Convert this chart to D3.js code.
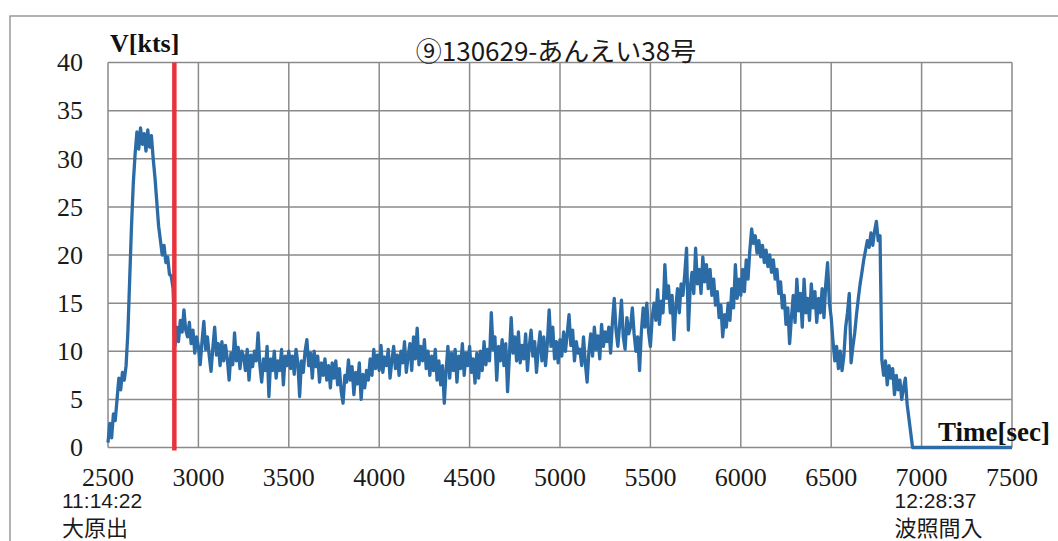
<!DOCTYPE html>
<html>
<head>
<meta charset="utf-8">
<script src="https://cdn.jsdelivr.net/npm/d3@7"></script>
<style>
  body { margin: 0; background: #fff; }
</style>
</head>
<body>
<div id="chart"></div>
<script>
// boat speed [kts], one sample every 10 s starting at 2500 s
const startTime = 2500
const sampleStep = 10
const speed = [
  0.5, 2.5, 1.0, 3.5, 2.8, 5.0, 7.2, 6.0, 7.8, 7.0, 8.5, 12.0, 17.5, 23.0, 27.5, 30.5, 32.8, 31.0, 33.2, 31.5, 32.6, 30.8, 33.0, 31.2, 32.4,
  30.0, 28.0, 25.5, 23.0, 21.5, 20.0, 21.0, 19.2, 19.8, 18.0, 17.8, 16.5, 10.5, 12.5, 11.0, 13.2, 12.0, 14.3, 12.2, 11.5, 13.0, 10.8, 12.2, 9.8, 11.5,
  10.5, 8.6, 11.0, 13.1, 10.2, 11.5, 9.5, 7.9, 10.4, 12.5, 9.6, 10.8, 8.5, 11.0, 9.0, 10.6, 9.2, 7.0, 9.8, 8.6, 11.9, 9.0, 10.4, 8.2, 10.0,
  9.5, 8.0, 10.2, 7.0, 9.6, 8.4, 10.0, 9.0, 11.9, 8.5, 6.8, 9.2, 8.0, 10.5, 5.3, 9.2, 8.0, 10.0, 7.2, 9.0, 8.0, 10.2, 6.5, 9.5, 8.5,
  10.0, 8.2, 9.5, 7.6, 10.2, 8.8, 5.3, 9.0, 7.8, 10.0, 11.2, 8.5, 9.8, 7.2, 10.0, 8.4, 9.5, 6.8, 8.8, 7.5, 9.2, 7.0, 8.5, 6.2, 8.8,
  7.2, 9.0, 6.5, 8.2, 5.8, 4.6, 7.5, 6.8, 9.1, 7.0, 8.4, 5.5, 7.8, 6.6, 8.8, 5.0, 7.6, 6.2, 8.0, 7.0, 9.2, 7.5, 10.2, 8.2, 9.6,
  8.0, 10.6, 7.8, 9.4, 8.5, 10.2, 7.2, 9.0, 10.5, 8.2, 9.6, 7.5, 10.0, 8.8, 11.0, 7.8, 9.5, 10.8, 8.0, 11.5, 9.2, 12.4, 8.6, 10.5, 9.0,
  11.2, 8.2, 10.0, 7.5, 9.5, 8.0, 10.2, 7.0, 9.0, 6.5, 8.5, 4.6, 8.0, 10.5, 7.2, 9.8, 8.0, 10.2, 6.8, 9.5, 8.2, 10.8, 7.5, 9.8, 8.5,
  10.5, 7.8, 9.2, 6.7, 9.8, 7.2, 10.0, 8.0, 11.0, 8.6, 10.2, 9.0, 14.0, 10.2, 11.5, 7.0, 10.5, 9.0, 11.2, 8.5, 10.8, 5.8, 9.5, 13.5, 9.8,
  11.5, 9.0, 12.0, 8.8, 10.6, 9.2, 11.8, 8.0, 10.5, 12.2, 9.5, 11.0, 7.8, 10.2, 12.0, 9.0, 11.5, 8.5, 10.8, 14.3, 10.5, 12.5, 9.2, 11.0, 8.8,
  11.2, 9.5, 12.0, 10.0, 11.8, 13.8, 10.6, 12.2, 9.0, 11.0, 9.8, 10.2, 8.5, 11.5, 8.8, 6.8, 10.0, 11.8, 9.5, 12.5, 10.2, 11.6, 9.2, 12.8, 10.5,
  12.0, 11.0, 12.5, 9.8, 13.0, 15.5, 12.2, 10.5, 12.8, 15.3, 11.5, 10.2, 13.5, 11.8, 12.5, 14.5, 11.8, 10.0, 11.5, 8.0, 12.0, 14.5, 12.5, 15.0, 12.0,
  10.5, 13.5, 15.0, 13.2, 16.4, 12.8, 15.2, 14.0, 19.0, 15.5, 16.8, 14.0, 15.8, 11.2, 14.5, 16.5, 14.0, 17.0, 15.8, 18.0, 20.7, 12.2, 16.5, 18.2, 16.0,
  20.7, 17.0, 18.5, 16.0, 19.8, 17.2, 19.0, 16.5, 18.5, 15.8, 17.5, 14.8, 16.2, 13.5, 14.8, 11.5, 13.8, 12.5, 15.0, 13.2, 16.5, 14.5, 19.0, 15.5, 17.5,
  15.8, 18.5, 16.2, 19.5, 17.5, 20.5, 22.7, 21.2, 22.0, 20.2, 21.5, 19.8, 21.0, 19.2, 20.5, 18.8, 20.0, 18.2, 19.5, 17.5, 18.5, 16.0, 17.2, 14.5, 15.8,
  12.8, 14.5, 10.8, 13.5, 15.8, 13.0, 17.5, 14.2, 16.0, 12.5, 17.5, 14.0, 15.5, 13.2, 17.0, 14.5, 16.2, 13.0, 15.5, 14.0, 16.5, 13.5, 17.0, 19.2, 15.0,
  13.5, 11.0, 9.0, 10.5, 8.2, 10.0, 8.0, 9.5, 12.5, 14.0, 16.0, 8.8, 10.5, 11.9, 13.8, 15.5, 17.0, 18.2, 19.5, 20.5, 21.5, 20.8, 22.3, 21.0, 22.5,
  23.5, 21.5, 22.0, 9.1, 7.5, 9.0, 6.5, 8.5, 7.2, 8.2, 5.5, 7.5, 6.0, 7.0, 5.0, 6.2, 7.2, 4.5, 3.0, 1.5, 0.0
]
// after arrival the log stays at zero
const tailTimes = [6960, 7500]
const tailSpeed = [0, 0]

const xTicks = [2500, 3000, 3500, 4000, 4500, 5000, 5500, 6000, 6500, 7000, 7500]
const yTicks = [0, 5, 10, 15, 20, 25, 30, 35, 40]
const markerTime = 2867 // red line
const title = "⑨130629-あんえい38号"
const startLabels = ["11:14:22", "大原出"]
const endLabels = ["12:28:37", "波照間入"]

var dimensions = {
    width: 1058,
    height: 541,
    margin: { top: 62.5, right: 46, bottom: 93.5, left: 108 }
}

var points = speed.map((v, i) => ({ t: startTime + i * sampleStep, v: v }))
tailTimes.forEach((t, i) => points.push({ t: t, v: tailSpeed[i] }))

const x = d3.scaleLinear()
    .domain([2500, 7500])
    .range([dimensions.margin.left, dimensions.width - dimensions.margin.right])
const y = d3.scaleLinear()
    .domain([0, 40])
    .range([dimensions.height - dimensions.margin.bottom, dimensions.margin.top])

const svg = d3.select("#chart").append("svg")
    .attr("width", dimensions.width)
    .attr("height", dimensions.height)
    .style("display", "block")

const gridColor = "#8a8a8a"

// outer chart frame (only top and left edges fall inside the window)
svg.append("rect")
    .attr("x", 10).attr("y", 16)
    .attr("width", 1200).attr("height", 700)
    .attr("fill", "none")
    .attr("stroke", gridColor)
    .attr("stroke-width", 1.3)

// gridlines
svg.append("g")
    .selectAll("line")
    .data(yTicks)
    .join("line")
    .attr("x1", x(2500)).attr("x2", x(7500))
    .attr("y1", d => y(d)).attr("y2", d => y(d))
    .attr("stroke", gridColor)
    .attr("stroke-width", 1.5)

svg.append("g")
    .selectAll("line")
    .data(xTicks)
    .join("line")
    .attr("x1", d => x(d)).attr("x2", d => x(d))
    .attr("y1", y(0)).attr("y2", y(40))
    .attr("stroke", gridColor)
    .attr("stroke-width", 1.5)

// tick labels
svg.append("g")
    .selectAll("text")
    .data(yTicks)
    .join("text")
    .text(d => d)
    .attr("x", 83)
    .attr("y", d => y(d))
    .attr("dy", "0.34em")
    .attr("text-anchor", "end")
    .attr("font-family", "Liberation Serif")
    .attr("font-size", 26)
    .attr("fill", "#1a1a1a")

svg.append("g")
    .selectAll("text")
    .data(xTicks)
    .join("text")
    .text(d => d)
    .attr("x", d => x(d))
    .attr("y", y(0) + 38)
    .attr("text-anchor", "middle")
    .attr("font-family", "Liberation Serif")
    .attr("font-size", 26)
    .attr("fill", "#1a1a1a")

// speed trace
const line = d3.line()
    .x(d => x(d.t))
    .y(d => y(d.v))

svg.append("path")
    .datum(points)
    .attr("d", line)
    .attr("fill", "none")
    .attr("stroke", "#2c6ca6")
    .attr("stroke-width", 3.3)
    .attr("stroke-linejoin", "round")

// departure marker
svg.append("line")
    .attr("x1", x(markerTime)).attr("x2", x(markerTime))
    .attr("y1", y(40)).attr("y2", y(0) + 3)
    .attr("stroke", "#e8333b")
    .attr("stroke-width", 4.5)

// axis titles
svg.append("text")
    .text("V[kts]")
    .attr("x", 110).attr("y", 52)
    .attr("font-family", "Liberation Serif")
    .attr("font-weight", "700")
    .attr("font-size", 26)
    .attr("fill", "#111")

svg.append("text")
    .text("Time[sec]")
    .attr("x", 938).attr("y", 441)
    .attr("font-family", "Liberation Serif")
    .attr("font-weight", "700")
    .attr("font-size", 27)
    .attr("fill", "#111")

svg.append("text")
    .text(title)
    .attr("x", 556).attr("y", 61)
    .attr("text-anchor", "middle")
    .attr("font-family", "Noto Sans CJK JP")
    .attr("font-size", 26)
    .attr("fill", "#1a1a1a")

// start / end times and ports
const timeLabels = [
    { t: 2500, dx: -46, lines: startLabels },
    { t: 7000, dx: -27, lines: endLabels }
]
timeLabels.forEach(lab => {
    svg.append("text")
        .text(lab.lines[0])
        .attr("x", x(lab.t) + lab.dx).attr("y", 508)
        .attr("font-family", "Liberation Sans")
        .attr("font-size", 21)
        .attr("fill", "#1a1a1a")
    svg.append("text")
        .text(lab.lines[1])
        .attr("x", x(lab.t) + lab.dx).attr("y", 536)
        .attr("font-family", "Noto Sans CJK JP")
        .attr("font-size", 22)
        .attr("fill", "#1a1a1a")
})
</script>
</body>
</html>
